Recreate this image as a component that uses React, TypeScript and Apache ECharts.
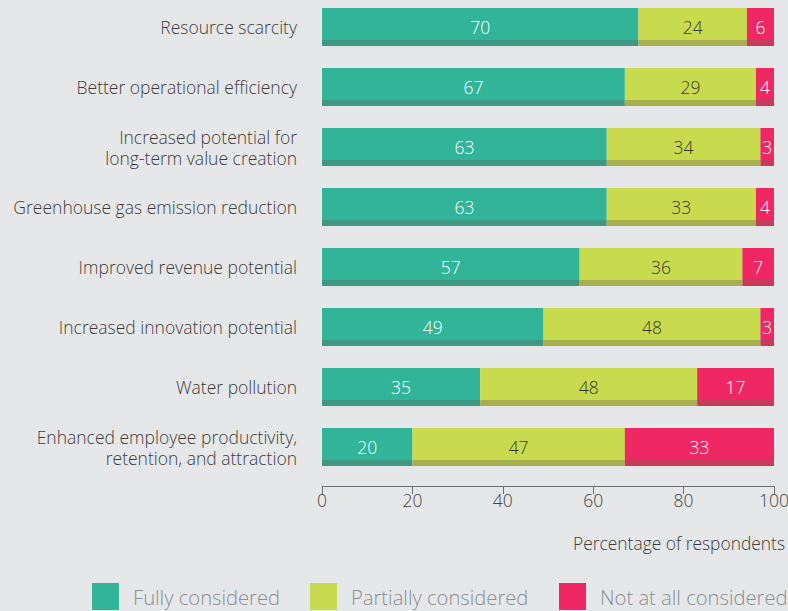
import React, { useEffect, useRef } from "react";
import * as echarts from "echarts";

const categories = [
  "Resource scarcity",
  "Better operational efficiency",
  "Increased potential for\nlong-term value creation",
  "Greenhouse gas emission reduction",
  "Improved revenue potential",
  "Increased innovation potential",
  "Water pollution",
  "Enhanced employee productivity,\nretention, and attraction",
];
const fullyConsidered = [70, 67, 63, 63, 57, 49, 35, 20];
const partiallyConsidered = [24, 29, 34, 33, 36, 48, 48, 47];
const notAtAllConsidered = [6, 4, 3, 4, 7, 3, 17, 33];
const seriesNames = ["Fully considered", "Partially considered", "Not at all considered"];
const xTicks = [0, 20, 40, 60, 80, 100];

const FONT = "Open Sans";
const WEIGHT = 300;
const mainColors = ["#32b499", "#c8da4e", "#ef2763"];
const darkColors = ["#3f9882", "#a7b04f", "#c63a5a"];
const labelColors = ["#ffffff", "#3a3a30", "#ffffff"];

function grad(i: number) {
  const f = 32 / 38;
  return new echarts.graphic.LinearGradient(0, 0, 0, 1, [
    { offset: 0, color: mainColors[i] },
    { offset: f, color: mainColors[i] },
    { offset: f, color: darkColors[i] },
    { offset: 1, color: darkColors[i] },
  ]);
}

export default function App() {
  const ref = useRef<HTMLDivElement>(null);
  useEffect(() => {
    if (!ref.current) return;
    const chart = echarts.init(ref.current, null, { renderer: "svg" });
    const data = [fullyConsidered, partiallyConsidered, notAtAllConsidered];
    const legendLefts = [92, 310, 559];
    chart.setOption({
      animation: false,
      backgroundColor: "#e6e7e9",
      grid: {
        left: 322,
        right: 14,
        top: -3,
        height: 480,
        containLabel: false,
        outerBoundsMode: "none",
      },
      xAxis: {
        type: "value",
        min: xTicks[0],
        max: xTicks[xTicks.length - 1],
        interval: 20,
        offset: 9,
        splitLine: { show: false },
        axisLine: { show: true, lineStyle: { color: "#6e6e6e", width: 1 } },
        axisTick: { show: true, length: 8, lineStyle: { color: "#6e6e6e" } },
        axisLabel: {
          fontFamily: FONT,
          fontWeight: WEIGHT,
          fontSize: 17.5,
          color: "#444",
          margin: 5,
        },
      },
      yAxis: {
        type: "category",
        data: categories,
        inverse: true,
        axisLine: { show: false },
        axisTick: { show: false },
        axisLabel: {
          fontFamily: FONT,
          fontWeight: WEIGHT,
          fontSize: 17.5,
          lineHeight: 21,
          color: "#3d3d3d",
          margin: 25,
          align: "right",
        },
      },
      legend: seriesNames.map((n, i) => ({
        data: [{ name: n, itemStyle: { color: mainColors[i] } }],
        left: legendLefts[i],
        top: 583,
        itemWidth: 27,
        itemHeight: 27,
        icon: "rect",
        padding: 0,
        selectedMode: false,
        textStyle: {
          fontFamily: FONT,
          fontWeight: WEIGHT,
          fontSize: 20.2,
          color: "#8a9094",
          padding: [0, 0, 0, 9],
        },
      })),
      graphic: [
        {
          type: "text",
          right: 3,
          top: 534,
          style: {
            text: "Percentage of respondents",
            fontFamily: FONT,
            fontWeight: WEIGHT,
            fontSize: 17.4,
            fill: "#3d3d3d",
          },
        },
      ],
      series: seriesNames.map((n, i) => ({
        name: n,
        type: "bar",
        stack: "total",
        barWidth: 38,
        data: data[i],
        itemStyle: { color: grad(i) },
        label: {
          show: true,
          position: "inside",
          fontFamily: FONT,
          fontWeight: WEIGHT,
          fontSize: 17.5,
          color: labelColors[i],
        },
      })),
    });
    return () => chart.dispose();
  }, []);
  return (
    <div
      ref={ref}
      style={{ position: "fixed", left: 0, top: 0, width: 788, height: 611 }}
    />
  );
}
